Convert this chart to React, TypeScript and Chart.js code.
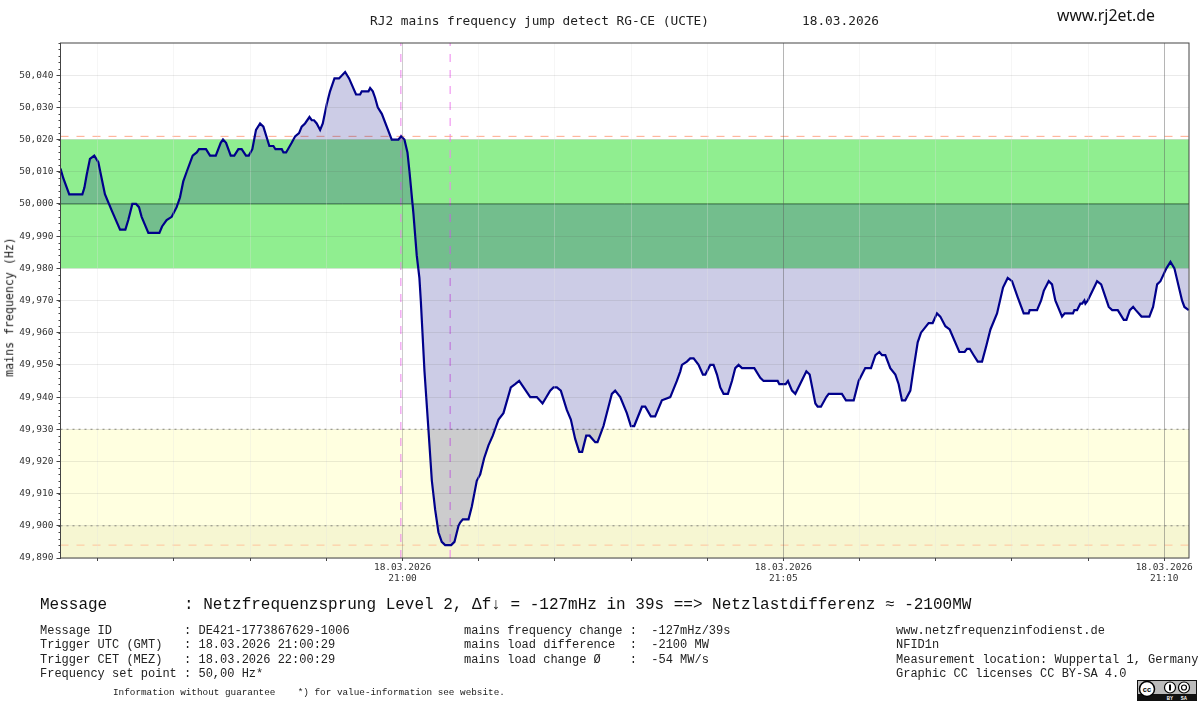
import { useEffect, useRef } from "react";
import Chart from "chart.js/auto";

// seconds relative to 21:00:00
const seconds = [
  -269.4, -267.2, -262.5, -252.2, -250.6, -248.8, -246.2, -242.8, -239.6, -237, -234.4, -229.1, -222.5, -218.3, -216, -212.8, -209.9, -207.6, -205.5, -200.2,
  -191.5, -189.4, -185.8, -181.8, -177.9, -175.3, -172.7, -170, -165.3, -162.1, -160.3, -154.8, -151.6, -147.1, -143.2, -141.4, -139, -135.3, -132.5, -129.3,
  -126.7, -123.3, -121.1, -118.3, -115.4, -112.2, -109.6, -104.9, -101.7, -100.1, -95.1, -93.8, -91.7, -87.3, -84.6, -81.5, -79.4, -76.8, -73.3, -71.5,
  -69.7, -67.6, -64.9, -62.8, -59.7, -57.1, -53.6, -50, -45.2, -42.1, -36.6, -33.4, -32.1, -26.8, -25.5, -23.4, -21.6, -19.5, -16.3, -8.5,
  -3.2, -1.1, 1.5, 3.9, 5.5, 8.6, 11.2, 13.3, 14.4, 17.3, 20.4, 23.1, 25.7, 28.3, 30.9, 33.6, 38.3, 40.9, 44.1, 45.4,
  47.5, 52, 54.6, 58.5, 61.2, 64.3, 67.7, 71.1, 72.9, 75.6, 79.5, 85.3, 88.7, 91.9, 100.6, 105.8, 110.3, 116.3, 118.9, 121.6,
  124.7, 129.4, 132.6, 136, 139.2, 141.5, 144.7, 147.3, 151.8, 153.6, 158.3, 164.9, 167.5, 171.5, 176.7, 179.9, 182.5, 188.6, 191.2, 195.6,
  199, 204.3, 210.9, 216.1, 218.8, 220.1, 224, 226.6, 229.3, 233.2, 236.6, 238.5, 242.4, 245, 247.7, 250.3, 252.9, 256.3, 259.5, 262.1,
  264.7, 267.4, 277.1, 281.8, 284.4, 295.5, 296.8, 301.8, 303.6, 306.8, 309.4, 318.1, 320.7, 325.2, 327, 329.6, 333.8, 335.7, 346.1, 349.3,
  355.4, 359.3, 363.2, 364.5, 369, 372.5, 375.6, 377.7, 380.3, 384.2, 388.2, 390.8, 393.4, 396, 400, 402.6, 405.8, 408.4, 414.4, 417.6,
  421, 423.6, 427.6, 431, 438.6, 442.8, 444.6, 446.8, 449.9, 453.1, 456.5, 459.9, 463.1, 468.3, 473, 476.7, 480.1, 484.6, 489.3, 493.2,
  494, 499.8, 503, 505.1, 509, 511.6, 514.2, 519.5, 521.6, 528.1, 529.2, 531.3, 533.9, 535.3, 537.1, 537.9, 539.8, 547.1, 550.3, 556.3,
  559, 563.4, 568.1, 570.2, 572.9, 575.5, 577.6, 582.1, 588.3, 591.2, 594.4, 597, 601.7, 604.9, 608, 614, 615.9, 619.3,
];

const frequency = [
  50.011, 50.008, 50.003, 50.003, 50.005, 50.009, 50.014, 50.015, 50.013, 50.008, 50.003, 49.998, 49.992, 49.992, 49.995, 50.0, 50.0, 49.999, 49.996, 49.991,
  49.991, 49.993, 49.995, 49.996, 49.999, 50.002, 50.007, 50.01, 50.015, 50.016, 50.017, 50.017, 50.015, 50.015, 50.019, 50.02, 50.019, 50.015, 50.015, 50.017,
  50.017, 50.015, 50.015, 50.017, 50.023, 50.025, 50.024, 50.018, 50.018, 50.017, 50.017, 50.016, 50.016, 50.019, 50.021, 50.022, 50.024, 50.025, 50.027, 50.026,
  50.026, 50.025, 50.023, 50.025, 50.031, 50.035, 50.039, 50.039, 50.041, 50.039, 50.034, 50.034, 50.035, 50.035, 50.036, 50.035, 50.033, 50.03, 50.028, 50.02,
  50.02, 50.021, 50.02, 50.016, 50.01, 49.997, 49.984, 49.977, 49.97, 49.948, 49.93, 49.914, 49.905, 49.898, 49.895, 49.894, 49.894, 49.895, 49.9, 49.901,
  49.902, 49.902, 49.906, 49.914, 49.916, 49.921, 49.925, 49.928, 49.93, 49.933, 49.935, 49.943, 49.944, 49.945, 49.94, 49.94, 49.938, 49.942, 49.943, 49.943,
  49.942, 49.936, 49.933, 49.927, 49.923, 49.923, 49.928, 49.928, 49.926, 49.926, 49.931, 49.941, 49.942, 49.94, 49.935, 49.931, 49.931, 49.937, 49.937, 49.934,
  49.934, 49.939, 49.94, 49.945, 49.948, 49.95, 49.951, 49.952, 49.952, 49.95, 49.947, 49.947, 49.95, 49.95, 49.947, 49.943, 49.941, 49.941, 49.945, 49.949,
  49.95, 49.949, 49.949, 49.946, 49.945, 49.945, 49.944, 49.944, 49.945, 49.942, 49.941, 49.948, 49.947, 49.938, 49.937, 49.937, 49.94, 49.941, 49.941, 49.939,
  49.939, 49.945, 49.948, 49.949, 49.949, 49.953, 49.954, 49.953, 49.953, 49.949, 49.947, 49.944, 49.939, 49.939, 49.942, 49.949, 49.957, 49.96, 49.963, 49.963,
  49.966, 49.965, 49.962, 49.961, 49.954, 49.954, 49.955, 49.955, 49.953, 49.951, 49.951, 49.956, 49.961, 49.966, 49.974, 49.977, 49.976, 49.971, 49.966, 49.966,
  49.967, 49.967, 49.97, 49.973, 49.976, 49.975, 49.97, 49.965, 49.966, 49.966, 49.967, 49.967, 49.969, 49.969, 49.97, 49.969, 49.97, 49.976, 49.975, 49.968,
  49.967, 49.967, 49.964, 49.964, 49.967, 49.968, 49.967, 49.965, 49.965, 49.968, 49.975, 49.976, 49.98, 49.982, 49.98, 49.97, 49.968, 49.967,
];

const xMin = -269.4;
const xMax = 619.5;
const yMin = 49.89;
const yMax = 50.05;
const setPoint = 50;
const maxFreq = 50.021;
const minFreq = 49.894;
const greenBand = [49.98, 50.02];
const yellowBand = [49.89, 49.93];
const lowBand = [49.89, 49.9];
const dottedLevels = [49.93, 49.9];
const triggerTimes = [-1.3, 37.5];
const xTicks = [-240, -180, -120, -60, 0, 60, 120, 180, 240, 300, 360, 420, 480, 540, 600];
const xLabels: Record<number, string[]> = {
  0: ["18.03.2026", "21:00"],
  300: ["18.03.2026", "21:05"],
  600: ["18.03.2026", "21:10"],
};
const yTicks = [49.89, 49.9, 49.91, 49.92, 49.93, 49.94, 49.95, 49.96, 49.97, 49.98, 49.99, 50, 50.01, 50.02, 50.03, 50.04];

const leftInfo = [
  "Message ID          : DE421-1773867629-1006",
  "Trigger UTC (GMT)   : 18.03.2026 21:00:29",
  "Trigger CET (MEZ)   : 18.03.2026 22:00:29",
  "Frequency set point : 50,00 Hz*",
];
const middleInfo = [
  "mains frequency change :  -127mHz/39s",
  "mains load difference  :  -2100 MW",
  "mains load change Ø    :  -54 MW/s",
];
const rightInfo = [
  "www.netzfrequenzinfodienst.de",
  "NFID1n",
  "Measurement location: Wuppertal 1, Germany",
  "Graphic CC licenses CC BY-SA 4.0",
];

const hLine = (y: number) => [
  { x: xMin, y },
  { x: xMax, y },
];
const vLine = (x: number) => [
  { x, y: yMin },
  { x, y: yMax },
];

const plotFrame = {
  id: "plotFrame",
  afterDraw(chart: any) {
    const { ctx, chartArea, scales } = chart;
    ctx.save();
    ctx.strokeStyle = "#444";
    ctx.lineWidth = 1;
    ctx.strokeRect(chartArea.left, chartArea.top, chartArea.width, chartArea.height);
    // small y ticks every 2 mHz
    ctx.beginPath();
    for (let i = 0; i <= 80; i++) {
      const y = Math.round(scales.y.getPixelForValue(yMin + i * 0.002)) + 0.5;
      ctx.moveTo(chartArea.left - 2, y);
      ctx.lineTo(chartArea.left, y);
    }
    ctx.stroke();
    ctx.restore();
  },
};

const mono = '"Liberation Mono", monospace';
const dejavu = '"DejaVu Sans Mono", monospace';

const Text = ({ x, y, size, font, color, rotate, children }: any) => (
  <div
    style={{
      position: "absolute",
      left: x,
      top: y,
      fontSize: size,
      fontFamily: font,
      color: color || "#222",
      lineHeight: "1",
      whiteSpace: "pre",
      transform: rotate ? `translate(-50%, -50%) rotate(${rotate}deg)` : undefined,
    }}
  >
    {children}
  </div>
);

const CcBadge = () => (
  <svg style={{ position: "absolute", left: 1137, top: 680 }} width="60" height="21" viewBox="0 0 60 21">
    <rect x="0" y="0" width="60" height="21" fill="#111" />
    <rect x="1" y="1" width="58" height="13" fill="#bbb" />
    <circle cx="10" cy="9" r="7.5" fill="#fff" stroke="#000" strokeWidth="1.5" />
    <text x="10" y="11.5" fontSize="7.5" fontWeight="bold" fontFamily="Liberation Sans" textAnchor="middle">cc</text>
    <circle cx="33" cy="7.5" r="5.5" fill="#fff" stroke="#000" strokeWidth="1.2" />
    <rect x="32" y="4.5" width="2" height="6" fill="#000" />
    <circle cx="47" cy="7.5" r="5.5" fill="#fff" stroke="#000" strokeWidth="1.2" />
    <circle cx="47" cy="7.5" r="2.5" fill="none" stroke="#000" strokeWidth="1.2" />
    <text x="33" y="19.5" fontSize="4.5" fontWeight="bold" fontFamily="Liberation Sans" fill="#fff" textAnchor="middle">BY</text>
    <text x="47" y="19.5" fontSize="4.5" fontWeight="bold" fontFamily="Liberation Sans" fill="#fff" textAnchor="middle">SA</text>
  </svg>
);

export default function App() {
  const canvasRef = useRef<HTMLCanvasElement | null>(null);

  useEffect(() => {
    if (!canvasRef.current) return;
    const overlay = { pointRadius: 0, fill: false, borderWidth: 1 };
    const chart = new Chart(canvasRef.current, {
      type: "line",
      data: {
        datasets: [
          {
            label: "mains frequency",
            data: seconds.map((x, i) => ({ x, y: frequency[i] })),
            borderColor: "#00008b",
            borderWidth: 2.2,
            pointRadius: 0,
            tension: 0,
            fill: { value: setPoint },
            backgroundColor: "rgba(0,0,128,0.2)",
          },
          { label: "set point", data: hLine(setPoint), borderColor: "rgba(0,50,0,0.6)", ...overlay },
          { label: "max", data: hLine(maxFreq), borderColor: "#ffa98c", borderDash: [8, 8], ...overlay },
          { label: "min", data: hLine(minFreq), borderColor: "#ffc49c", borderDash: [8, 8], ...overlay },
          ...dottedLevels.map((level) => ({
            label: `level ${level}`,
            data: hLine(level),
            borderColor: "#8c8c80",
            borderDash: [2, 4],
            ...overlay,
          })),
          ...triggerTimes.map((t) => ({
            label: `trigger ${t}`,
            data: vLine(t),
            borderColor: "#ee82ee",
            borderDash: [8, 8],
            ...overlay,
          })),
          {
            label: "low band",
            data: hLine(lowBand[1]),
            borderWidth: 0,
            pointRadius: 0,
            fill: { value: lowBand[0] },
            backgroundColor: "rgba(170,170,90,0.1)",
          },
          {
            label: "yellow band",
            data: hLine(yellowBand[1]),
            borderWidth: 0,
            pointRadius: 0,
            fill: { value: yellowBand[0] },
            backgroundColor: "#ffffe0",
          },
          {
            label: "green band",
            data: hLine(greenBand[1]),
            borderWidth: 0,
            pointRadius: 0,
            fill: { value: greenBand[0] },
            backgroundColor: "#90ee90",
          },
        ],
      },
      options: {
        animation: false,
        responsive: false,
        layout: { padding: { left: 0, top: 43, right: 11, bottom: 116 } },
        plugins: { legend: { display: false }, tooltip: { enabled: false }, title: { display: false } },
        scales: {
          x: {
            type: "linear",
            min: xMin,
            max: xMax,
            afterBuildTicks: (scale: any) => {
              scale.ticks = xTicks.map((value) => ({ value }));
            },
            afterFit: (scale: any) => {
              scale.height = 30;
              scale.paddingLeft = 0;
              scale.paddingRight = 0;
            },
            ticks: {
              autoSkip: false,
              maxRotation: 0,
              padding: 1,
              color: "#333",
              font: { family: "DejaVu Sans Mono", size: 9.5, lineHeight: 1.15 },
              callback: (value: any) => xLabels[value] || "",
            },
            border: { display: false },
            grid: {
              z: 1,
              tickLength: 3,
              tickColor: "#444",
              color: (ctx: any) => {
                if (!ctx.tick || !xLabels[ctx.tick.value]) return "rgba(225,225,225,0.3)";
                return ctx.tick.value === 0 ? "rgba(90,90,90,0.3)" : "rgba(90,90,90,0.45)";
              },
            },
          },
          y: {
            min: yMin,
            max: yMax,
            afterBuildTicks: (scale: any) => {
              scale.ticks = yTicks.map((value) => ({ value }));
            },
            afterFit: (scale: any) => {
              scale.width = 60.5;
            },
            ticks: {
              autoSkip: false,
              padding: 3,
              color: "#333",
              font: { family: "DejaVu Sans Mono", size: 9.5 },
              callback: (value: any) => Number(value).toFixed(3).replace(".", ","),
            },
            border: { display: false },
            grid: { z: 1, tickLength: 4, tickColor: "#444", color: "rgba(80,80,80,0.12)" },
          },
        },
      },
      plugins: [plotFrame],
    } as any);
    return () => chart.destroy();
  }, []);

  return (
    <div style={{ position: "absolute", left: 0, top: 0, width: 1200, height: 704, background: "#fff", overflow: "hidden" }}>
      <canvas ref={canvasRef} width={1200} height={704} style={{ position: "absolute", left: 0, top: 0 }} />
      <Text x={370} y={15} size={12.8} font={dejavu}>RJ2 mains frequency jump detect RG-CE (UCTE)</Text>
      <Text x={802} y={15} size={12.8} font={dejavu}>18.03.2026</Text>
      <Text x={1057} y={8} size={15.8} font='"Noto Sans", sans-serif' color="#111">www.rj2et.de</Text>
      <Text x={10} y={307} size={11.6} font={dejavu} rotate={-90}>mains frequency (Hz)</Text>
      <Text x={40} y={597} size={16} font={mono} color="#111">Message        : Netzfrequenzsprung Level 2, Δf↓ = -127mHz in 39s ==&gt; Netzlastdifferenz ≈ -2100MW</Text>
      {leftInfo.map((line, i) => (
        <Text key={line} x={40} y={625 + i * 14.4} size={12} font={mono}>{line}</Text>
      ))}
      {middleInfo.map((line, i) => (
        <Text key={line} x={464} y={625 + i * 14.4} size={12} font={mono}>{line}</Text>
      ))}
      {rightInfo.map((line, i) => (
        <Text key={line} x={896} y={625 + i * 14.4} size={12} font={mono}>{line}</Text>
      ))}
      <Text x={113} y={688} size={9.33} font={mono}>Information without guarantee    *) for value-information see website.</Text>
      <CcBadge />
    </div>
  );
}
